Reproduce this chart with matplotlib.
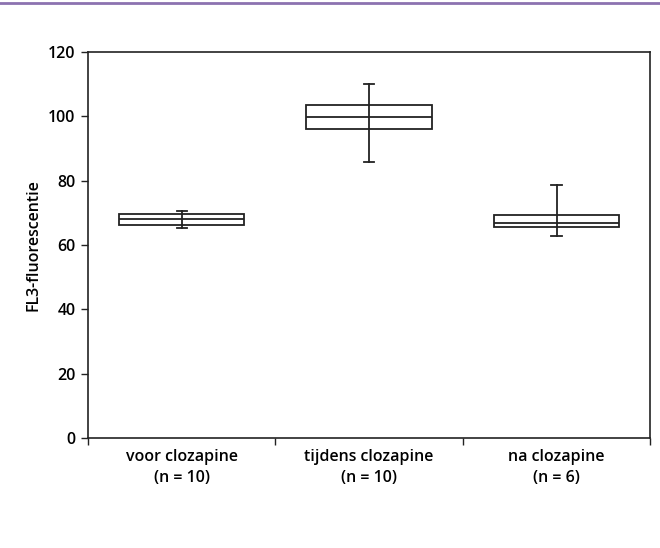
import matplotlib
matplotlib.use("Agg")
import matplotlib.pyplot as plt
from matplotlib.lines import Line2D

# groups and box values
groups = ["voor clozapine\n(n = 10)", "tijdens clozapine\n(n = 10)", "na clozapine\n(n = 6)"]
whisker_low = [65.4, 85.8, 62.8]
q1 = [66.3, 96.0, 65.6]
median = [68.1, 99.8, 66.7]
q3 = [69.8, 103.6, 69.2]
whisker_high = [70.7, 110.0, 78.6]
y_ticks = [0, 20, 40, 60, 80, 100, 120]

plt.rcParams['font.family'] = ['Open Sans', 'DejaVu Sans']

fig = plt.figure(figsize=(6.6, 5.48), dpi=100)
ax = fig.add_axes([0.1333, 0.2007, 0.852, 0.7043])

stats = []
for i in range(len(groups)):
    stats.append({"med": median[i], "q1": q1[i], "q3": q3[i],
                  "whislo": whisker_low[i], "whishi": whisker_high[i],
                  "fliers": []})

pos = list(range(len(groups)))
ax.bxp(stats, positions=pos, widths=0.67, showfliers=False,
       patch_artist=True,
       boxprops=dict(facecolor="white", edgecolor="#222222", linewidth=1.3),
       medianprops=dict(color="#222222", linewidth=1.3),
       whiskerprops=dict(color="#222222", linewidth=1.3),
       capprops=dict(color="#222222", linewidth=1.3),
       capwidths=0.055)
# whisker line runs through the box
ax.vlines(pos, q1, q3, color="#222222", linewidth=1.3, zorder=5)

fs = 11.5
ax.set_xlim(-0.5, 2.5)
ax.set_ylim(0, 120)
ax.set_yticks(y_ticks)
ax.set_yticklabels([str(v) for v in y_ticks], fontsize=fs, fontweight="semibold")
ax.set_xticks([-0.5, 0.5, 1.5, 2.5])
ax.set_xticklabels([])
ax.set_xticks(pos, minor=True)
ax.set_xticklabels(groups, minor=True, fontsize=fs, fontweight="semibold",
                   linespacing=1.4)
ax.tick_params(axis="x", which="minor", length=0, pad=8)
ax.tick_params(axis="x", which="major", length=5, width=1, color="#222222")
ax.tick_params(axis="y", length=5, width=1, color="#222222", pad=4)
for s in ax.spines.values():
    s.set_color("#222222")
    s.set_linewidth(1.2)

ax.set_ylabel("FL3-fluorescentie", fontsize=fs, fontweight="semibold", labelpad=5)

fig.add_artist(Line2D([0, 1], [0.994, 0.994], color="#8c72b0", linewidth=2,
                      transform=fig.transFigure))

fig.savefig("out.png", dpi=100)
